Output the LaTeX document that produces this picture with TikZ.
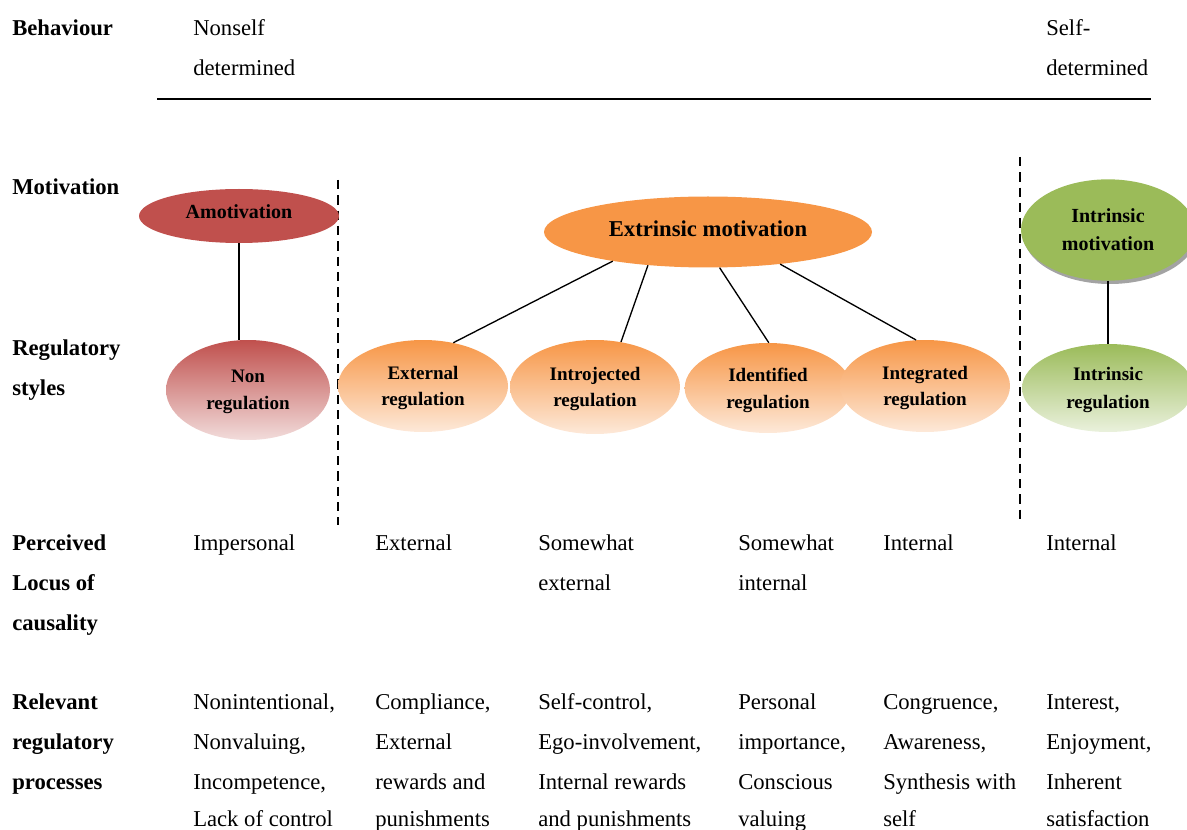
\documentclass[tikz,border=0pt]{standalone}
\usepackage{fontspec}
\setmainfont{Liberation Serif}
\usetikzlibrary{shapes.geometric,shadows}
\definecolor{redA}{HTML}{C0504D}
\definecolor{redL}{HTML}{F2DCDB}
\definecolor{orA}{HTML}{F79646}
\definecolor{orL}{HTML}{FDE9D9}
\definecolor{grA}{HTML}{9BBB59}
\definecolor{grL}{HTML}{EAF1DD}
\newcommand\tl[4]{\node[#1] (n#2-#3) at (#2,#3) {#4};}
\begin{document}
\begin{tikzpicture}[x=0.75pt,y=-0.75pt,
  tx/.style={font=\fontsize{17}{30}\selectfont, inner sep=0pt, anchor=base west},
  lb/.style={tx, font=\fontsize{17}{30}\selectfont\bfseries},
  ell/.style={shape=ellipse, draw=none, inner sep=0pt, align=center},
  regfont/.style={font=\fontsize{14.3}{20}\selectfont\bfseries, text depth=0pt},
  conn/.style={line width=1pt},
  sep/.style={line width=1.6pt, dash pattern=on 7pt off 4.5pt}]
\useasboundingbox (0,0) rectangle (1187,830);

% horizontal line and dashed separators
\coordinate (h1) at (157,99);
\coordinate (h2) at (1151,99);
\draw[line width=1.2pt] (h1) -- (h2);
\coordinate (d1t) at (338,180);
\coordinate (d1b) at (338,525);
\coordinate (d2t) at (1020,157);
\coordinate (d2b) at (1020,525);
\draw[sep] (d1t) -- (d1b);
\draw[sep] (d2t) -- (d2b);

% ellipses
\node[ell, fill=redA, minimum width=150pt, minimum height=40.5pt, text depth=6pt,
      font=\fontsize{15}{20}\selectfont\bfseries] (amot) at (239,216) {Amotivation};
\node[ell, top color=redA, bottom color=redL, minimum width=123pt, minimum height=75pt,
      regfont] (nonreg) at (248,390) {Non\\regulation};
\node[ell, fill=orA, minimum width=246pt, minimum height=53.25pt, text depth=4.5pt,
      font=\fontsize{17}{20}\selectfont\bfseries] (extr) at (708,232) {Extrinsic motivation};
\node[ell, top color=orA, bottom color=orL, minimum width=127.5pt, minimum height=69pt,
      regfont] (extreg) at (423,386) {External\\regulation};
\node[ell, top color=orA, bottom color=orL, minimum width=127.5pt, minimum height=70.5pt,
      regfont] (intro) at (595,387) {Introjected\\regulation};
\node[ell, top color=orA, bottom color=orL, minimum width=125pt, minimum height=67.5pt,
      regfont] (ident) at (768,388) {Identified\\regulation};
\node[ell, top color=orA, bottom color=orL, minimum width=127.5pt, minimum height=69pt,
      regfont] (integ) at (925,386) {Integrated\\regulation};
\node[ell, fill=grA, minimum width=130.5pt, minimum height=76pt,
      drop shadow={shadow xshift=1.5pt, shadow yshift=-2.5pt, fill=black!45, opacity=0.8},
      font=\fontsize{15}{21}\selectfont\bfseries] (intrmot) at (1108,230) {Intrinsic\\motivation};
\node[ell, top color=grA, bottom color=grL, minimum width=129pt, minimum height=66pt,
      font=\fontsize{14.3}{21}\selectfont\bfseries, text depth=0pt] (intrreg) at (1108,388) {Intrinsic\\regulation};

% connectors
\draw[conn] (amot.south) -- (amot.south |- nonreg.north);
\draw[conn] (extr.197) -- (extreg.55);
\draw[conn] (extr.209) -- (intro.60);
\draw[conn] (extr.288) -- (ident.89);
\draw[conn] (extr.336) -- (integ.101);
\draw[conn] (intrmot.south) -- (intrreg.north);

% left labels
\tl{lb}{12}{36}{Behaviour}
\tl{lb}{12}{195}{Motivation}
\tl{lb}{12}{355}{Regulatory}
\tl{lb}{12}{395}{styles}
\tl{lb}{12}{550}{Perceived}
\tl{lb}{12}{590}{Locus of}
\tl{lb}{12}{630}{causality}
\tl{lb}{12}{709}{Relevant}
\tl{lb}{12}{749}{regulatory}
\tl{lb}{12}{789}{processes}

% top
\tl{tx}{193}{36}{Nonself}
\tl{tx}{193}{76}{determined}
\tl{tx}{1046}{36}{Self-}
\tl{tx}{1046}{76}{determined}

% locus of causality
\tl{tx}{193}{550}{Impersonal}
\tl{tx}{375}{550}{External}
\tl{tx}{538}{550}{Somewhat}
\tl{tx}{538}{590}{external}
\tl{tx}{738}{550}{Somewhat}
\tl{tx}{738}{590}{internal}
\tl{tx}{883}{550}{Internal}
\tl{tx}{1046}{550}{Internal}

% processes
\tl{tx}{193}{709}{Nonintentional,}
\tl{tx}{193}{749}{Nonvaluing,}
\tl{tx}{193}{789}{Incompetence,}
\tl{tx}{193}{826}{Lack of control}
\tl{tx}{375}{709}{Compliance,}
\tl{tx}{375}{749}{External}
\tl{tx}{375}{789}{rewards and}
\tl{tx}{375}{826}{punishments}
\tl{tx}{538}{709}{Self-control,}
\tl{tx}{538}{749}{Ego-involvement,}
\tl{tx}{538}{789}{Internal rewards}
\tl{tx}{538}{826}{and punishments}
\tl{tx}{738}{709}{Personal}
\tl{tx}{738}{749}{importance,}
\tl{tx}{738}{789}{Conscious}
\tl{tx}{738}{826}{valuing}
\tl{tx}{883}{709}{Congruence,}
\tl{tx}{883}{749}{Awareness,}
\tl{tx}{883}{789}{Synthesis with}
\tl{tx}{883}{826}{self}
\tl{tx}{1046}{709}{Interest,}
\tl{tx}{1046}{749}{Enjoyment,}
\tl{tx}{1046}{789}{Inherent}
\tl{tx}{1046}{826}{satisfaction}
\end{tikzpicture}
\end{document}
